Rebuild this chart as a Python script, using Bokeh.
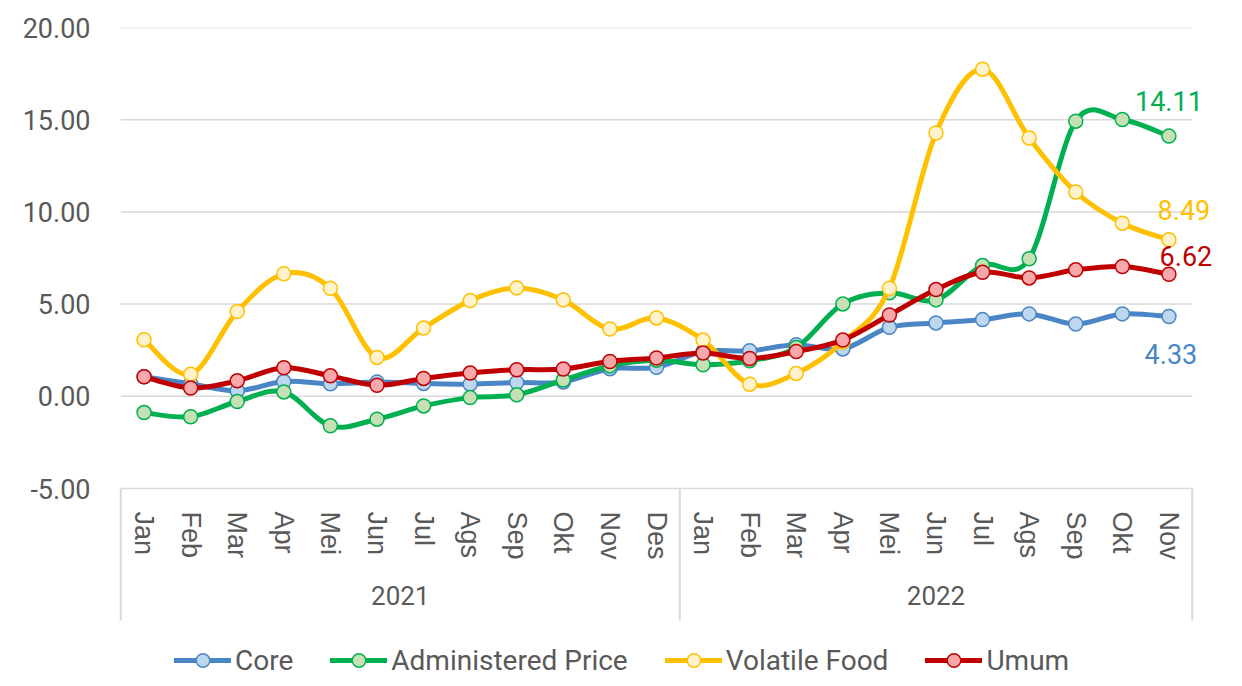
from bokeh.plotting import figure
from bokeh.models import (FactorRange, Range1d, FixedTicker, PrintfTickFormatter,
                          Legend, LegendItem, Label, ColumnDataSource)
from bokeh.embed import file_html
from bokeh.resources import INLINE

# ---------------- data ----------------
years = ["2021"] * 12 + ["2022"] * 11
months = ["Jan", "Feb", "Mar", "Apr", "Mei", "Jun", "Jul", "Ags", "Sep", "Okt", "Nov", "Des",
          "Jan", "Feb", "Mar", "Apr", "Mei", "Jun", "Jul", "Ags", "Sep", "Okt", "Nov"]
core = [1.06, 0.68, 0.30, 0.80, 0.68, 0.77, 0.70, 0.66, 0.75, 0.78, 1.50, 1.57,
        2.43, 2.47, 2.80, 2.57, 3.74, 3.98, 4.16, 4.47, 3.92, 4.47, 4.33]
administered = [-0.88, -1.11, -0.28, 0.24, -1.60, -1.24, -0.52, -0.07, 0.08, 0.88, 1.65, 1.95,
                1.71, 1.93, 2.65, 5.01, 5.61, 5.23, 7.09, 7.46, 14.92, 15.01, 14.11]
volatile = [3.07, 1.20, 4.60, 6.64, 5.86, 2.11, 3.70, 5.19, 5.88, 5.23, 3.65, 4.25,
            3.05, 0.66, 1.24, 2.95, 5.86, 14.28, 17.74, 14.01, 11.08, 9.39, 8.49]
umum = [1.06, 0.45, 0.84, 1.55, 1.11, 0.60, 0.97, 1.26, 1.44, 1.48, 1.89, 2.08,
        2.35, 2.05, 2.43, 3.05, 4.41, 5.79, 6.73, 6.42, 6.86, 7.04, 6.62]
series_names = ["Core", "Administered Price", "Volatile Food", "Umum"]
y_ticks = [-5, 0, 5, 10, 15, 20]

# ---------------- styles ----------------
line_colors = ["#4A86C5", "#00B050", "#FFC000", "#C00000"]
fill_colors = ["#BDD7EE", "#C5E0B4", "#FFF2CC", "#F8A8AB"]
label_offsets = [(2, -38), (0, 35), (15, 30), (17, 18)]
GREY = "#595959"
GRID = "#D9D9D9"
FONT = "Roboto"

factors = list(zip(years, months))
n = len(factors)
xs = [i + 0.5 for i in range(n)]

p = figure(width=1226, height=680,
           x_range=FactorRange(factors=factors, factor_padding=0, group_padding=0,
                               range_padding=0.5, range_padding_units="absolute"),
           y_range=Range1d(-15.41, 20),
           output_backend="svg", toolbar_location=None,
           min_border_left=97, min_border_right=11, min_border_top=27, min_border_bottom=0)
p.outline_line_color = None
p.background_fill_color = "white"

# y axis
ya = p.yaxis[0]
ya.ticker = FixedTicker(ticks=y_ticks)
ya.formatter = PrintfTickFormatter(format="%.2f")
ya.axis_line_color = None
ya.major_tick_line_color = None
ya.minor_tick_line_color = None
ya.major_tick_out = 0
ya.major_tick_in = 0
ya.major_label_standoff = 7
ya.major_label_text_font = FONT
ya.major_label_text_font_size = "27px"
ya.major_label_text_color = GREY

p.ygrid.grid_line_color = None
p.xgrid.grid_line_color = None

# horizontal gridlines over the category span only
p.segment(x0=[0] * len(y_ticks), y0=y_ticks, x1=[n] * len(y_ticks), y1=y_ticks,
          line_color=GRID, line_width=1.5)

# x axis (placed at y = -5)
xa = p.xaxis[0]
xa.fixed_location = y_ticks[0]
xa.axis_line_color = None
xa.major_tick_line_color = None
xa.minor_tick_line_color = None
xa.major_tick_out = 0
xa.major_tick_in = 0
xa.separator_line_color = None
xa.major_label_orientation = "vertical"
xa.major_label_standoff = 23
xa.major_label_text_font = "Liberation Sans"
xa.major_label_text_font_size = "27px"
xa.major_label_text_color = GREY
xa.group_label_orientation = "horizontal"
xa.group_text_font = FONT
xa.group_text_font_size = "26px"
xa.group_text_font_style = "normal"
xa.group_text_color = GREY

# group separators
bounds = [0]
for i in range(1, n):
    if years[i] != years[i - 1]:
        bounds.append(i)
bounds.append(n)
p.segment(x0=bounds, y0=[y_ticks[0]] * len(bounds), x1=bounds, y1=[-12.16] * len(bounds),
          line_color=GRID, line_width=2)


def smooth(vals):
    x0, y0, x1, y1, cx0, cy0, cx1, cy1 = [], [], [], [], [], [], [], []
    for i in range(n - 1):
        a = max(i - 1, 0)
        d = min(i + 2, n - 1)
        x0.append(xs[i]); y0.append(vals[i])
        x1.append(xs[i + 1]); y1.append(vals[i + 1])
        cx0.append(xs[i] + (xs[i + 1] - xs[a]) / 6.0)
        cy0.append(vals[i] + (vals[i + 1] - vals[a]) / 6.0)
        cx1.append(xs[i + 1] - (xs[d] - xs[i]) / 6.0)
        cy1.append(vals[i + 1] - (vals[d] - vals[i]) / 6.0)
    return dict(x0=x0, y0=y0, x1=x1, y1=y1, cx0=cx0, cy0=cy0, cx1=cx1, cy1=cy1)


items = []
all_series = [core, administered, volatile, umum]
for name, vals, lc, fc, (dx, dy) in zip(series_names, all_series, line_colors, fill_colors, label_offsets):
    bz = p.bezier(source=ColumnDataSource(smooth(vals)), x0="x0", y0="y0", x1="x1", y1="y1",
                  cx0="cx0", cy0="cy0", cx1="cx1", cy1="cy1",
                  line_color=lc, line_width=5, line_cap="round")
    sc = p.scatter(source=ColumnDataSource(dict(x=factors, y=vals)), x="x", y="y",
                   marker="circle", size=14, fill_color=fc, line_color=lc, line_width=1.5)
    items.append(LegendItem(label=name, renderers=[bz, sc]))
    p.add_layout(Label(x=xs[-1], y=vals[-1], text=f"{vals[-1]:.2f}", x_offset=dx, y_offset=dy,
                       text_align="center", text_baseline="middle", text_font=FONT,
                       text_font_size="27px", text_color=lc))

legend = Legend(items=items, orientation="horizontal", location=(77, 3),
                label_text_font=FONT, label_text_font_size="28px", label_text_color=GREY,
                glyph_width=57, glyph_height=34, label_standoff=4, spacing=37,
                padding=0, margin=0, background_fill_alpha=0, border_line_color=None)
p.add_layout(legend)

open("out.html", "w").write(file_html(p, INLINE))
